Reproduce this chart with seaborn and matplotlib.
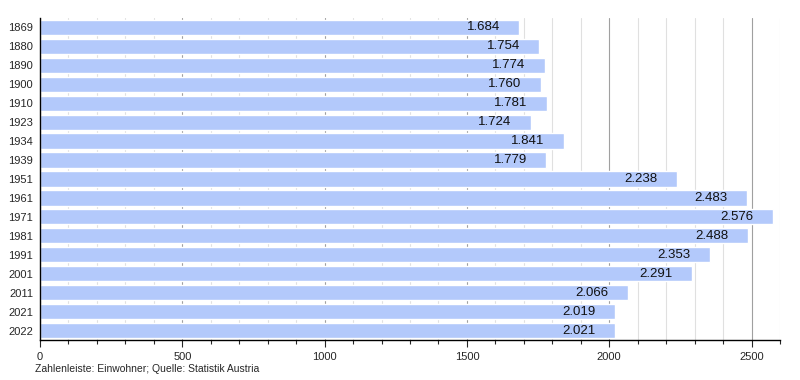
import pandas as pd
import seaborn as sns
import matplotlib.pyplot as plt
from matplotlib.ticker import MultipleLocator

years = ['1869', '1880', '1890', '1900', '1910', '1923', '1934', '1939', '1951',
         '1961', '1971', '1981', '1991', '2001', '2011', '2021', '2022']
population = [1684, 1754, 1774, 1760, 1781, 1724, 1841, 1779, 2238,
              2483, 2576, 2488, 2353, 2291, 2066, 2019, 2021]
labels = ['1.684', '1.754', '1.774', '1.760', '1.781', '1.724', '1.841', '1.779', '2.238',
          '2.483', '2.576', '2.488', '2.353', '2.291', '2.066', '2.019', '2.021']

data = pd.DataFrame({'Jahr': years, 'Einwohner': population})

sns.set_style('white')
plt.rcParams['font.family'] = ['Liberation Sans', 'DejaVu Sans']

fig = plt.figure(figsize=(8, 3.8), dpi=100)
ax = fig.add_axes([0.05, 0.105, 0.925, 0.848])

sns.barplot(x='Einwohner', y='Jahr', data=data, color='#b3c9fb', saturation=1,
            width=0.8, orient='h', ax=ax, zorder=2)

ax.set_xlim(0, 2600)
ax.xaxis.set_major_locator(MultipleLocator(500))
ax.xaxis.set_minor_locator(MultipleLocator(100))
ax.grid(axis='x', which='minor', color='#e0e0e0', linewidth=0.8, zorder=0)
ax.grid(axis='x', which='major', color='#a0a0a0', linewidth=0.8, zorder=0)
ax.set_axisbelow(True)

for s in ['top', 'right']:
    ax.spines[s].set_visible(False)
ax.spines['left'].set_color('black')
ax.spines['bottom'].set_color('black')
ax.spines['left'].set_linewidth(1)
ax.spines['bottom'].set_linewidth(1)

ax.tick_params(axis='x', which='major', length=5, width=0.8, labelsize=8, direction='out', bottom=True)
ax.tick_params(axis='x', which='minor', length=3, width=0.8, bottom=True)
ax.tick_params(axis='y', length=0, labelsize=8, pad=5)
ax.set_xlabel('')
ax.set_ylabel('')

for i, (v, t) in enumerate(zip(population, labels)):
    ax.annotate(t, xy=(v, i), xytext=(-26, 0), textcoords='offset points',
                ha='center', va='center', fontsize=9.5, color='#111111', zorder=3)

fig.text(0.044, 0.028, 'Zahlenleiste: Einwohner; Quelle: Statistik Austria',
         fontsize=7.5, ha='left', va='center')

fig.savefig('out.png', dpi=100)
